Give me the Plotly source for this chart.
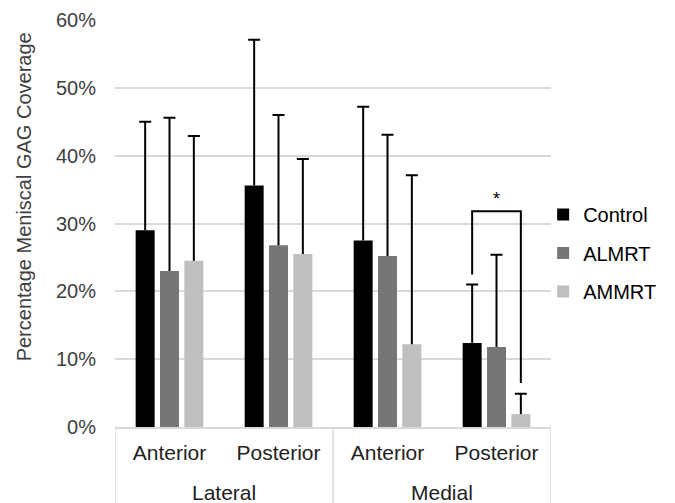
import plotly.graph_objects as go

regions = ["Lateral", "Lateral", "Medial", "Medial"]
locations = ["Anterior", "Posterior", "Anterior", "Posterior"]
series_names = ["Control", "ALMRT", "AMMRT"]
control = [0.290, 0.356, 0.275, 0.124]
almrt = [0.230, 0.268, 0.252, 0.118]
ammrt = [0.245, 0.255, 0.122, 0.019]
control_err = [0.160, 0.215, 0.197, 0.086]
almrt_err = [0.226, 0.192, 0.179, 0.136]
ammrt_err = [0.184, 0.140, 0.249, 0.030]
colors = ["#000000", "#767676", "#bfbfbf"]
y_ticks = [0, 0.1, 0.2, 0.3, 0.4, 0.5, 0.6]

# significance bracket (Medial Posterior: Control vs AMMRT)
bracket_top = 0.318
bracket_left_bottom = 0.225
bracket_right_bottom = 0.065
star_y = 0.336

BARGAP = 0.33
font_family = "Liberation Sans, Arial, sans-serif"
text_color = "#404040"
grid_color = "#d9d9d9"

keys = [f"{r} {l}" for r, l in zip(regions, locations)]

fig = go.Figure()
for name, vals, errs, col in zip(series_names, [control, almrt, ammrt],
                                 [control_err, almrt_err, ammrt_err], colors):
    # bar + error stem (no caps)
    fig.add_trace(go.Bar(
        name=name, x=keys, y=vals, marker_color=col, marker_line_width=0,
        offsetgroup=name, legendgroup=name,
        error_y=dict(type="data", array=errs, arrayminus=[0] * len(errs), symmetric=False,
                     color="#000000", thickness=2, width=0),
    ))
    # error cap only (transparent carrier bar at the top of the error bar)
    fig.add_trace(go.Bar(
        name=name, x=keys, y=[v + e for v, e in zip(vals, errs)],
        marker_color="rgba(0,0,0,0)", marker_line_width=0,
        offsetgroup=name, legendgroup=name, showlegend=False, hoverinfo="skip",
        error_y=dict(type="data", array=[0] * len(errs), color="#000000", thickness=2, width=6),
    ))

# bracket drawn on an overlaid numeric axis spanning the same categories
slot = (1 - BARGAP) / 3
cat_index = 3
xl = cat_index + 0.5 - slot
xr = cat_index + 0.5 + slot
fig.add_trace(go.Scatter(
    x=[xl, xl, xr, xr], y=[bracket_left_bottom, bracket_top, bracket_top, bracket_right_bottom],
    mode="lines", line=dict(color="#000000", width=2), xaxis="x2", showlegend=False, hoverinfo="skip",
))
fig.add_annotation(x=(xl + xr) / 2, y=star_y, xref="x2", yref="y", text="*", showarrow=False,
                   font=dict(size=18, color="#000000", family=font_family))

# second-level category labels and box lines of the category axis
for i, reg in enumerate(["Lateral", "Medial"]):
    fig.add_annotation(x=2 * i + 0.5, y=-0.16, xref="x", yref="paper", text=reg, showarrow=False,
                       yanchor="middle", font=dict(size=21, color="#222222", family=font_family))
for xb in [-0.5, 1.5, 3.5]:
    fig.add_shape(type="line", x0=xb, x1=xb, xref="x", y0=0, y1=-0.19, yref="paper",
                  line=dict(color=grid_color, width=1.5), layer="below")

# y axis title
fig.add_annotation(x=-0.208, y=0.565, xref="paper", yref="paper", text="Percentage Meniscal GAG Coverage",
                   textangle=-90, showarrow=False, xanchor="center", yanchor="middle",
                   font=dict(size=20, color=text_color, family=font_family))

fig.update_layout(
    width=667, height=495,
    margin=dict(l=107, r=124, t=12, b=76, autoexpand=False),
    paper_bgcolor="white", plot_bgcolor="white",
    barmode="group", bargap=BARGAP, bargroupgap=0.22,
    font=dict(family=font_family, size=20, color=text_color),
    showlegend=True,
    legend=dict(x=0.982, y=0.570, xanchor="left", yanchor="top", tracegroupgap=9.5,
                font=dict(size=20, color="#000000"), itemwidth=30, bgcolor="rgba(0,0,0,0)"),
    yaxis=dict(range=[0, 0.6], tickvals=y_ticks, tickformat=".0%", showgrid=True, gridcolor=grid_color,
               gridwidth=1.5, zeroline=False, showline=False, ticks="", ticklabelstandoff=18,
               tickfont=dict(size=20, color=text_color)),
    xaxis=dict(type="category", range=[-0.5, 3.5], tickvals=keys, ticktext=locations,
               showline=True, linecolor=grid_color, linewidth=1.5, ticks="", ticklabelstandoff=6,
               tickfont=dict(size=21, color="#222222"), showgrid=False),
    xaxis2=dict(overlaying="x", range=[0, 4], visible=False, showgrid=False, zeroline=False),
)

fig.write_html("out.html")
